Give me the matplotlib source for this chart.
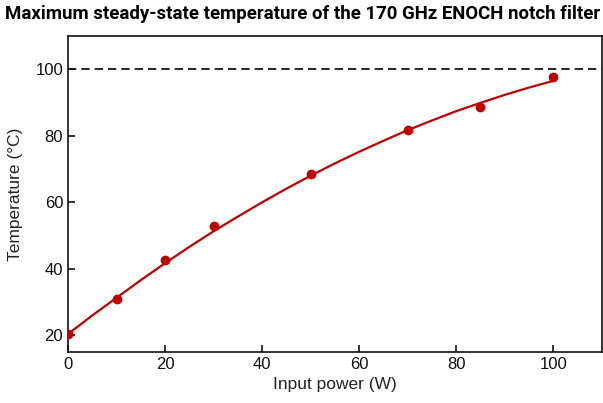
import numpy as np
import matplotlib.pyplot as plt

plt.rcParams['font.family'] = ['Liberation Sans', 'DejaVu Sans']

# measured points
power = [0, 10, 20, 30, 50, 70, 85, 100]
temp = [20.3, 30.8, 42.6, 53.0, 68.4, 81.6, 88.8, 97.8]

# fitted curve
fit_power = [0, 5, 10, 15, 20, 25, 30, 35, 40, 45, 50, 55, 60, 65, 70, 75, 80, 85, 90, 95, 100]
fit_temp = [20.4, 26.0, 31.3, 36.6, 41.7, 46.6, 51.3, 55.7, 60.0, 64.1, 68.0, 71.7, 75.2,
            78.5, 81.7, 84.6, 87.4, 89.9, 92.3, 94.5, 96.5]

max_temp = 100

red = "#c00000"

fig = plt.figure(figsize=(6.03, 4.03), dpi=100)
ax = fig.add_axes([0.1128, 0.1266, 0.885, 0.784])

ax.plot(fit_power, fit_temp, color=red, lw=1.6, zorder=2)
ax.plot(power, temp, "o", color=red, ms=6, zorder=3)
ax.axhline(max_temp, color="black", ls=(0, (5, 3)), lw=1.2, zorder=1)

ax.set_xlim(0, 110)
ax.set_ylim(15, 110)
ax.set_xticks([0, 20, 40, 60, 80, 100])
ax.set_yticks([20, 40, 60, 80, 100])
ax.tick_params(direction="in", length=5, width=1.2, labelsize=12, colors="#111111")
for s in ax.spines.values():
    s.set_linewidth(1.2)
    s.set_color("#111111")

ax.set_xlabel("Input power (W)", fontsize=12.5, color="#222222", labelpad=4)
ax.set_ylabel("Temperature (°C)", fontsize=12.5, color="#222222", labelpad=9)
title = fig.text(0.008, 0.965, "Maximum steady-state temperature of the 170 GHz ENOCH notch filter",
                 fontsize=13, fontweight="bold", family="Roboto", ha="left", va="center")

# shrink the title so it spans the figure width like the reference
fig.canvas.draw()
w = title.get_window_extent().width
title.set_fontsize(13 * 594 / w)

fig.savefig("out.png", dpi=100)
